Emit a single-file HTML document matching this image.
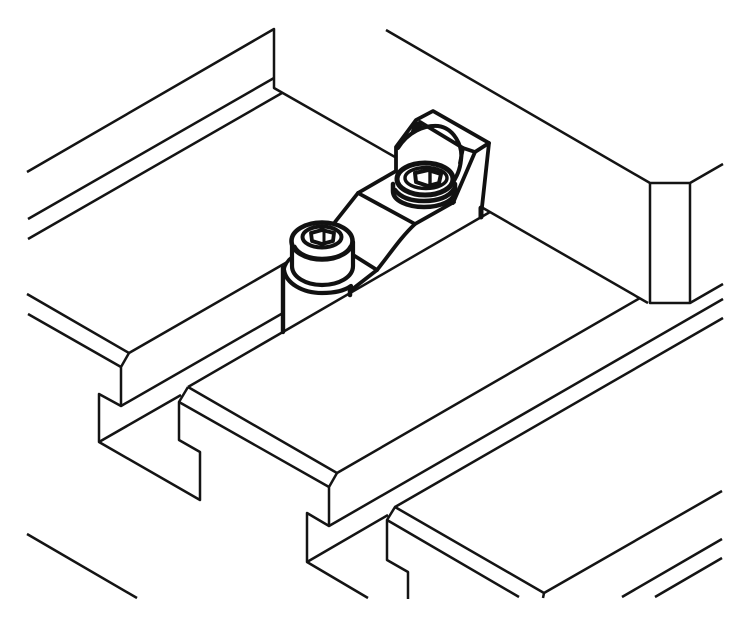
<!DOCTYPE html>
<html>
<head>
<meta charset="utf-8">
<style>
html,body{margin:0;padding:0;background:#fff;width:750px;height:625px;overflow:hidden}
svg{display:block}
</style>
</head>
<body>
<svg width="750" height="625" viewBox="0 0 750 625" xmlns="http://www.w3.org/2000/svg">
<rect width="750" height="625" fill="#fff"/>
<g fill="none" stroke="#141414" stroke-width="2.5" stroke-linejoin="round" stroke-linecap="butt">
  <!-- top-left wall -->
  <path d="M27,172L274,29V88L395,157"/>
  <path d="M28,219L274,78"/>
  <path d="M28,239L282,93"/>
  <!-- top-right wall -->
  <path d="M386,30L650,183H690L723,164"/>
  <path d="M650,183V303H690V183"/>
  <path d="M690,303L723,284"/>
  <path d="M483,208L648,303"/>
  <path d="M337,473L640,298"/>
  <path d="M329,526L723,299"/>
  <path d="M395,507L723,318"/>
  <!-- left rail -->
  <path d="M27,294L129,353L121,367V406L99,394V442L200,500V452L179,440V402L188,387"/>
  <path d="M28,314L121,367"/>
  <path d="M129,353L289,261"/>
  <path d="M121,406L283,313"/>
  <path d="M99,442L181,395"/>
  <path d="M188,387L490,212"/>
  <!-- centre plate -->
  <path d="M188,387L337,473L329,487V526L307,513V562L368,598"/>
  <path d="M179,402L329,487"/>
  <path d="M307,562L388,515"/>
  <!-- lower right plate -->
  <path d="M408,599V572L387,560V520L395,507L544,593L722,491"/>
  <path d="M387,520L519,597"/>
  <path d="M544,593L543,598"/>
  <path d="M622,597L722,539"/>
  <path d="M655,597L722,558"/>
  <!-- bottom-left -->
  <path d="M27,534L137,598"/>
</g>

<g fill="none" stroke="#111" stroke-width="3.8" stroke-linejoin="round" stroke-linecap="round">
  <!-- bracket back block -->
  <path fill="#fff" d="M396,170V147L418,120L435,111L489,143L481,216L453,203Z" stroke="none"/>
  <path d="M396,172V147L416,120L433,111L489,143L481,216"/>
  <path d="M420,122L463,148L475,152L489,143"/>
  <path d="M475,152L453,203"/>
  <path d="M463,148L460,163"/>
  <path d="M416,120L411,134L424,127" fill="#111" stroke-width="2"/>
  <path d="M398,148C408,132 424,125 438,126C454,128 463,146 461,160C460,170 457,176 451,186" stroke-width="4"/>
  <!-- bracket body -->
  <path fill="#fff" stroke="none" d="M335,222L358,193L396,172L453,200V204L415,225L377,270L350,292L330,260Z"/>
  <path d="M335,222L358,193L396,171"/>
  <path d="M358,193L415,224"/>
  <path d="M415,224L454,202"/>
  <path d="M415,224C400,238 390,254 377,270"/>
  <path d="M377,270L350,253"/>
  <path d="M377,270L350,291"/>
  <path d="M350,290V295" stroke-width="4.5"/>
  <path d="M481,208V217" stroke-width="5"/>
  <!-- left post -->
  <path d="M283,268V332" stroke-width="4.4"/>
  <!-- rear bolt -->
  <path fill="#fff" stroke-width="4.5" d="M393,184V191C393,201 408,207 424,207C440,207 455,201 455,191V184"/>
  <path stroke-width="4.5" d="M395,190C401,198 412,201 424,201C438,201 449,197 454,189"/>
  <ellipse cx="425" cy="179" rx="28" ry="16" fill="#fff" stroke-width="5"/>
  <ellipse cx="426" cy="178" rx="21" ry="10.5" stroke-width="3.4"/>
  <path fill="#fff" stroke-width="4" d="M415,173L428,170L441,174L439,183L428,186L416,182Z"/>
  <path d="M430,172V184" stroke-width="3.4"/>
  <!-- front bolt washer -->
  <path fill="#fff" d="M284,270C286,283 302,293 322,293C334,293 344,291 351,286L351,262H290Z" stroke="none"/>
  <path d="M284,270C286,283 302,293 322,293C334,293 344,291 351,286" stroke-width="4.2"/>
  <path d="M284,270C285,264 288,260 292,257" stroke-width="3.4"/>
  <!-- front bolt cylinder -->
  <path fill="#fff" stroke-width="4.2" d="M292,242V266C292,277 306,285 322,285C339,285 353,277 353,266V242Z"/>
  <ellipse cx="322" cy="241" rx="30.5" ry="18.5" fill="#fff" stroke-width="4.6"/>
  <path d="M295,246C299,254 310,258 322,258C335,258 346,254 350,246" stroke-width="2.6"/>
  <ellipse cx="322" cy="237" rx="19.5" ry="10.5" stroke-width="4"/>
  <path fill="#fff" stroke-width="3.8" d="M311,233L322,230L334,233L333,241L322,244L312,241Z"/>
  <path d="M324,231V243" stroke-width="3"/>
</g>
</svg>
</body>
</html>
